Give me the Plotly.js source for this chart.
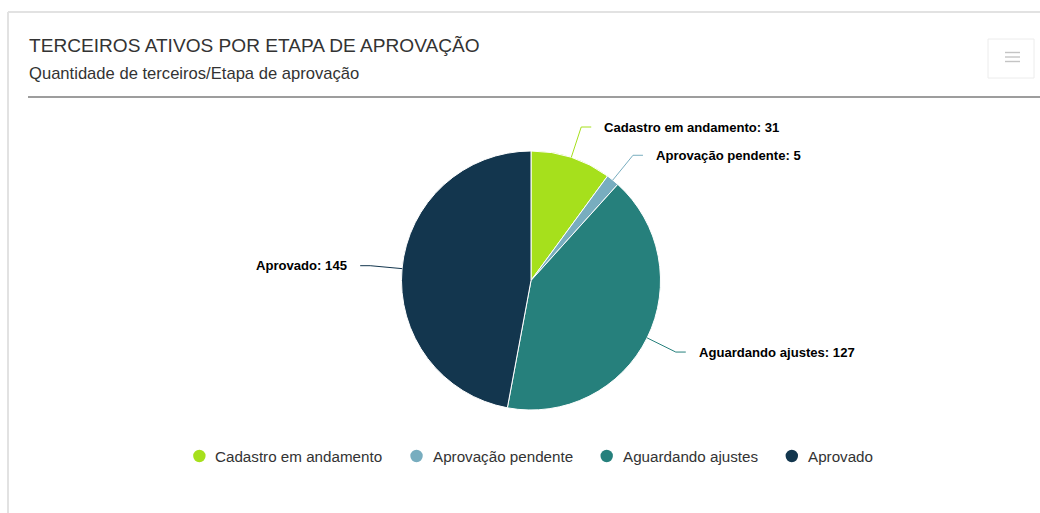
<!DOCTYPE html>
<html>
<head>
<meta charset="utf-8">
<script src="https://cdn.plot.ly/plotly-3.0.1.min.js"></script>
<style>
  html, body { margin: 0; padding: 0; background: #ffffff; }
  #chart { width: 1040px; height: 513px; }
</style>
</head>
<body>
<div id="chart"></div>
<script>
// ---- data ----
var categories = ["Cadastro em andamento", "Aprovação pendente", "Aguardando ajustes", "Aprovado"];
var values = [31, 5, 127, 145];
var colors = ["#a6e01c", "#78adbf", "#26807c", "#13364e"];
var titleText = "TERCEIROS ATIVOS POR ETAPA DE APROVAÇÃO";
var subtitleText = "Quantidade de terceiros/Etapa de aprovação";

// ---- layout constants ----
var W = 1040, H = 513;
var cx = 531, cy = 280.5, r = 129.5;
var labelDist = 32;
var FONT = "Liberation Sans, Arial, Helvetica, sans-serif";

function px(x) { return x / W; }
function py(y) { return 1 - y / H; }

var shapes = [];
var annotations = [];

// card borders
shapes.push({type: "line", xref: "paper", yref: "paper", x0: px(8), x1: px(1040), y0: py(12), y1: py(12), line: {color: "#e2e2e2", width: 2}});
shapes.push({type: "line", xref: "paper", yref: "paper", x0: px(8), x1: px(8), y0: py(12), y1: py(513), line: {color: "#e2e2e2", width: 2}});
// separator under header
shapes.push({type: "line", xref: "paper", yref: "paper", x0: px(28), x1: px(1040), y0: py(97), y1: py(97), line: {color: "#7c7c7c", width: 1.6}});
// menu button
shapes.push({type: "rect", xref: "paper", yref: "paper", x0: px(988), x1: px(1034), y0: py(39), y1: py(78), line: {color: "#ececec", width: 1}, fillcolor: "rgba(0,0,0,0)"});
[52.5, 57, 61.5].forEach(function (yy) {
  shapes.push({type: "line", xref: "paper", yref: "paper", x0: px(1005), x1: px(1020), y0: py(yy), y1: py(yy), line: {color: "#c4c4c4", width: 1.4}});
});

// titles
annotations.push({xref: "paper", yref: "paper", x: px(26.5), y: py(45), xanchor: "left", yanchor: "middle", showarrow: false,
  text: titleText, font: {family: FONT, size: 19.1, color: "#333333"}});
annotations.push({xref: "paper", yref: "paper", x: px(26.5), y: py(73), xanchor: "left", yanchor: "middle", showarrow: false,
  text: subtitleText, font: {family: FONT, size: 16.6, color: "#333333"}});

// data labels with connectors, computed from the values
var total = values.reduce(function (a, b) { return a + b; }, 0);
var cum = 0;
for (var i = 0; i < values.length; i++) {
  var mid = (cum + values[i] / 2) / total * 2 * Math.PI; // clockwise from 12 o'clock
  cum += values[i];
  var s = Math.sin(mid), c = Math.cos(mid);
  var sign = s >= 0 ? 1 : -1;
  var ex = cx + r * s, ey = cy - r * c;
  var R = r + labelDist;
  var by = cy - R * c;
  var bx = cx + sign * Math.sqrt(Math.max(0, R * R - (by - cy) * (by - cy)));
  var tx = bx + sign * 10;
  var lx = bx + sign * 21;
  shapes.push({type: "path", xref: "paper", yref: "paper",
    path: "M " + px(ex) + " " + py(ey) + " L " + px(bx) + " " + py(by) + " L " + px(tx) + " " + py(by),
    line: {color: colors[i], width: 1}});
  annotations.push({xref: "paper", yref: "paper", x: px(lx), y: py(by), xanchor: sign > 0 ? "left" : "right", yanchor: "middle",
    showarrow: false, text: "<b>" + categories[i] + ": " + values[i] + "</b>",
    font: {family: FONT, size: 13.1, color: "#000000"}});
}

// custom legend with circle symbols
var legendFontSize = 15.2;
var canvas = document.createElement("canvas");
var ctx = canvas.getContext("2d");
ctx.font = legendFontSize + "px 'Liberation Sans', Arial, sans-serif";
var widths = categories.map(function (t) { return ctx.measureText(t).width; });
var symToText = 15, textToSym = 35, symR = 6.2;
var totalW = symR;
widths.forEach(function (w, k) { totalW += symToText + w + (k < widths.length - 1 ? textToSym : 0); });
var legendY = 456;
var xStart = 532.5 - totalW / 2 + symR;
var xc = xStart;
for (var k = 0; k < categories.length; k++) {
  shapes.push({type: "circle", xref: "paper", yref: "paper", x0: px(xc - symR), x1: px(xc + symR), y0: py(legendY + symR), y1: py(legendY - symR),
    fillcolor: colors[k], line: {width: 0}});
  annotations.push({xref: "paper", yref: "paper", x: px(xc + symToText - 1), y: py(legendY), xanchor: "left", yanchor: "middle", showarrow: false,
    text: categories[k], font: {family: FONT, size: legendFontSize, color: "#333333"}});
  xc += symToText + widths[k] + textToSym;
}

var trace = {
  type: "pie",
  labels: categories,
  values: values,
  sort: false,
  direction: "clockwise",
  rotation: 0,
  marker: {colors: colors, line: {color: "#ffffff", width: 1}},
  textinfo: "none",
  hoverinfo: "label+value",
  showlegend: false,
  domain: {x: [px(cx - r), px(cx + r)], y: [py(cy + r), py(cy - r)]}
};

var layout = {
  width: W, height: H,
  margin: {l: 0, r: 0, t: 0, b: 0, pad: 0},
  paper_bgcolor: "#ffffff",
  showlegend: false,
  shapes: shapes,
  annotations: annotations,
  font: {family: FONT}
};

Plotly.newPlot("chart", [trace], layout, {displayModeBar: false, staticPlot: false});
</script>
</body>
</html>
